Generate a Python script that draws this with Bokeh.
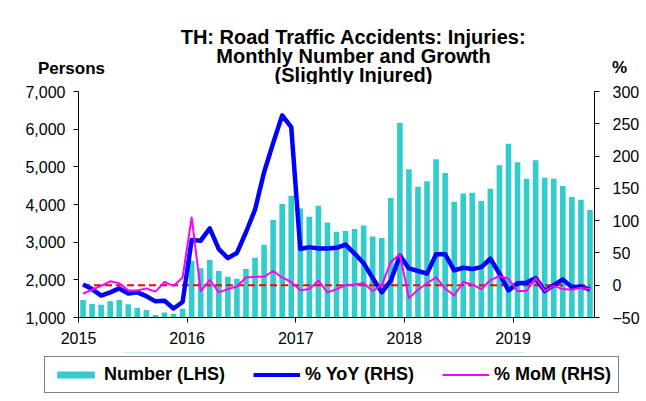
from bokeh.plotting import figure
from bokeh.layouts import column
from bokeh.models import (Range1d, LinearAxis, FixedTicker, NumeralTickFormatter,
                          Label, Legend, LegendItem, ColumnDataSource)
from bokeh.embed import file_html
from bokeh.resources import INLINE

# ---- data (monthly, Jan 2015 .. Sep 2019) ----
years = ["2015", "2016", "2017", "2018", "2019"]
number = [1464, 1358, 1340, 1430, 1464, 1350, 1250, 1200, 1066, 1130, 1100, 1235,
          2507, 2305, 2525, 2233, 2083, 2030, 2286, 2586, 2931, 3586, 4010, 4230,
          3896, 3674, 3966, 3525, 3277, 3294, 3347, 3445, 3153, 3109, 4170, 6167,
          4939, 4470, 4620, 5204, 4833, 4072, 4294, 4311, 4090, 4417, 5045, 5610,
          5125, 4682, 5178, 4709, 4682, 4488, 4196, 4125, 3851]
yoy = [1, -6, -16, -11, -5, -13, -11, -17, -25, -24, -36, -26,
       70, 69, 88, 56, 42, 50, 82, 117, 175, 220, 263, 245,
       56, 59, 57, 57, 58, 63, 49, 34, 11, -11, 7, 46,
       26, 22, 18, 48, 48, 23, 27, 25, 28, 41, 18, -8,
       3, 4, 11, -9, 0, 9, -3, -2, -7]
mom = [-13, -7, -1, 6, 3, -8, -8, -5, -10, 5, -1, 12,
       105, -9, 8, -11, -6, -2, 12, 13, 13, 22, 12, 5,
       -8, -6, 7, -11, -6, 0, 1, 3, -9, 0, 36, 48,
       -20, -7, 3, 12, -5, -16, 5, 1, -6, 8, 14, 10,
       -9, -9, 11, -9, -1, -6, -7, -4, -6]
zero_ref = 0
title_lines = ["TH: Road Traffic Accidents: Injuries:", "Monthly Number and Growth",
               "(Slightly Injured)"]
left_label = "Persons"
right_label = "%"
legend_labels = ["Number (LHS)", "% YoY (RHS)", "% MoM (RHS)"]

months = [i + 0.5 for i in range(len(number))]
year_ticks = [12 * i for i in range(len(years))]

FONT = "Liberation Sans"
W = 646
BAR_C, YOY_C, MOM_C = "#33CCCC", "#0000FF", "#FF00FF"

src = ColumnDataSource(dict(x=months, number=number, yoy=yoy, mom=mom,
                            zero=[zero_ref] * len(months)))

# ---------------- header (titles) ----------------
HH = 84
hdr = figure(width=W, height=HH, output_backend="svg", toolbar_location=None,
             x_range=Range1d(0, W), y_range=Range1d(HH, 0),
             x_axis_type=None, y_axis_type=None, frame_align=False,
             min_border_left=0, min_border_right=0, min_border_top=0, min_border_bottom=0)
hdr.outline_line_color = None
hdr.grid.grid_line_color = None
for k, t in enumerate(title_lines):
    hdr.add_layout(Label(x=353, y=36 + 19 * k, text=t, text_font=FONT,
                         text_font_size="20px", text_font_style="bold",
                         text_align="center", text_baseline="middle", text_color="black"))
hdr.add_layout(Label(x=71, y=68, text=left_label, text_font=FONT, text_font_size="17px",
                     text_font_style="bold", text_align="center", text_baseline="middle",
                     text_color="black"))
hdr.add_layout(Label(x=619, y=67, text=right_label, text_font=FONT, text_font_size="17px",
                     text_font_style="bold", text_align="center", text_baseline="middle",
                     text_color="black"))

# ---------------- main chart ----------------
p = figure(width=W, height=268, output_backend="svg", toolbar_location=None,
           x_range=Range1d(0, len(number)), y_range=Range1d(1000, 7000), frame_align=False,
           min_border_left=78, min_border_right=52, min_border_top=7, min_border_bottom=35)
p.outline_line_color = None
p.grid.grid_line_color = None
p.extra_y_ranges = {"pct": Range1d(-50, 300)}

p.vbar(x="x", top="number", bottom=1000, width=0.62, source=src,
       fill_color=BAR_C, line_color=None)
p.line(x="x", y="zero", source=src, y_range_name="pct",
       line_color="#FF0000", line_width=2, line_dash="7 4")
p.line(x="x", y="yoy", source=src, y_range_name="pct",
       line_color=YOY_C, line_width=4.5, line_join="round")
p.line(x="x", y="mom", source=src, y_range_name="pct",
       line_color=MOM_C, line_width=2, line_join="round")

xa = p.xaxis[0]
xa.ticker = FixedTicker(ticks=year_ticks)
xa.major_label_overrides = {t: y for t, y in zip(year_ticks, years)}
ya = p.yaxis[0]
ya.ticker = FixedTicker(ticks=list(range(1000, 7001, 1000)))
ya.formatter = NumeralTickFormatter(format="0,0")
ra = LinearAxis(y_range_name="pct", ticker=FixedTicker(ticks=list(range(-50, 301, 50))))
p.add_layout(ra, "right")

for ax in (xa, ya, ra):
    ax.axis_line_color = "black"
    ax.axis_line_width = 1
    ax.major_tick_line_color = "black"
    ax.major_tick_in = 0
    ax.major_tick_out = 5
    ax.minor_tick_line_color = None
    ax.major_label_text_font = FONT
    ax.major_label_text_font_size = "16px"
    ax.major_label_text_color = "black"
xa.major_label_standoff = 9
ya.major_label_standoff = 8
ra.major_label_standoff = 13

# ---------------- legend strip ----------------
LH = 49
lg = figure(width=W, height=LH, output_backend="svg", toolbar_location=None,
            x_range=Range1d(0, 1), y_range=Range1d(-100000, -99999),
            x_axis_type=None, y_axis_type=None, frame_align=False,
            min_border_left=0, min_border_right=0, min_border_top=0, min_border_bottom=0)
lg.outline_line_color = None
lg.grid.grid_line_color = None
# same series, drawn outside this strip's visible range: only their legend swatches show
r_bar = lg.vbar(x="x", top="number", bottom=1000, width=0.62, source=src,
                fill_color=BAR_C, line_color=None)
r_yoy = lg.line(x="x", y="yoy", source=src, line_color=YOY_C, line_width=4)
r_mom = lg.line(x="x", y="mom", source=src, line_color=MOM_C, line_width=2)
legend = Legend(items=[LegendItem(label=legend_labels[0], renderers=[r_bar]),
                       LegendItem(label=legend_labels[1], renderers=[r_yoy]),
                       LegendItem(label=legend_labels[2], renderers=[r_mom])],
                orientation="horizontal", location=(44, 8),
                label_text_font=FONT, label_text_font_size="18px", label_text_font_style="bold",
                label_text_color="black",
                glyph_width=47, glyph_height=9, label_standoff=5, spacing=28,
                padding=7, margin=0, border_line_color="black", border_line_width=1,
                background_fill_alpha=1)
lg.add_layout(legend, "center")

layout = column(hdr, p, lg, spacing=0)
open("out.html", "w").write(file_html(layout, INLINE))
